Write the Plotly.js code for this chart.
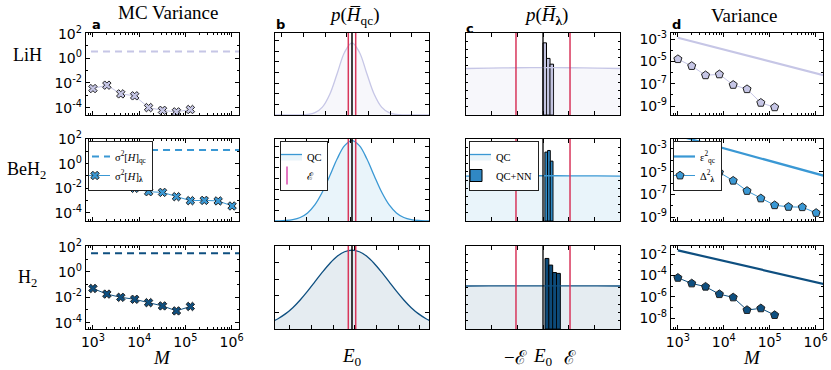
<!DOCTYPE html>
<html>
<head>
<meta charset="utf-8">
<script src="https://cdn.plot.ly/plotly-3.0.1.min.js"></script>
<style>body{margin:0;background:#fff}#plot{width:831px;height:370px}</style>
</head>
<body>
<div id="plot"></div>
<script>
////////// DATA ///////////////

const molecules = ['LiH', 'BeH<sub>2</sub>', 'H<sub>2</sub>'];

// sample sizes M
const M_lih  = [1e3, 2e3, 4e3, 8e3, 1.6e4, 3.2e4, 6.4e4, 1.28e5];
const M_beh2 = [8e3, 1.6e4, 3.2e4, 6.4e4, 1.28e5, 2.56e5, 5.12e5, 1.024e6];
const M_h2   = [1e3, 2e3, 4e3, 8e3, 1.6e4, 3.2e4, 6.4e4, 1.28e5];
const M_span = [5e2, 2e6];
const M_line = [1e3, 2e6];

// a: MC variance
const varQc = [3.6, 13, 30];
const varNN_lih  = [3.5e-3, 6.6e-3, 1.3e-3, 9e-4, 1e-4, 6e-5, 4.5e-5, 7e-5];
const varNN_beh2 = [1e-2, 5.3e-3, 4.7e-3, 2.1e-3, 1.0e-3, 1.05e-3, 9.5e-4, 3.7e-4];
const varNN_h2   = [5e-2, 1.8e-2, 1e-2, 7e-3, 3.8e-3, 2.1e-3, 8.5e-4, 1.9e-3];

// b: p(H_qc), energies in units of epsilon, E0 at 0
const E0 = 0;
const eps = 1;
const xPdfB = [-22,-20,-18,-16,-14,-12,-10,-8,-6,-4,-2,0,2,4,6,8,10,12,14,16,18,20,22];
const pdfB_lih  = [0,0,0,0,0.001,0.006,0.028,0.096,0.253,0.506,0.766,0.88,0.766,0.506,0.253,0.096,0.028,0.006,0.001,0,0,0,0];
const pdfB_beh2 = [0,0.002,0.006,0.017,0.043,0.099,0.199,0.353,0.552,0.759,0.919,0.98,0.919,0.759,0.552,0.353,0.199,0.099,0.043,0.017,0.006,0.002,0];
const pdfB_h2   = [0.08,0.124,0.182,0.257,0.35,0.456,0.57,0.685,0.79,0.876,0.931,0.95,0.931,0.876,0.79,0.685,0.57,0.456,0.35,0.257,0.182,0.124,0.08];

// c: p(H_lambda)
const xPdfC = [-3,-2,-1,0,1,2,3];
const pdfC_lih  = [0.566,0.572,0.576,0.578,0.576,0.572,0.566];
const pdfC_beh2 = [0.548,0.55,0.551,0.552,0.551,0.55,0.548];
const pdfC_h2   = [0.518,0.519,0.52,0.52,0.52,0.519,0.518];
const binsC_lih  = [0.065, 0.195, 0.325];
const histC_lih  = [0.88, 0.69, 0.62];
const binsC_beh2 = [0.12, 0.22, 0.32];
const histC_beh2 = [0.84, 0.86, 0.73];
const binsC_h2   = [0.145, 0.287, 0.429, 0.571];
const histC_h2   = [0.85, 0.77, 0.68, 0.67];
const binWidth = [0.13, 0.1, 0.142];

// d: variance
const errQc_lih  = [1.3e-3, 4.2e-7];
const errQc_beh2 = [1.5e-2, 3.2e-6];
const errQc_h2   = [2.2e-2, 1.2e-5];
const delta_lih  = [1.6e-5, 3.9e-6, 5.8e-7, 7e-7, 8e-8, 3.3e-8, 2e-9, 8e-10];
const delta_beh2 = [8.7e-6, 1.6e-6, 2e-7, 4.4e-8, 1.1e-8, 7.9e-9, 7.4e-9, 2.3e-9];
const delta_h2   = [6e-5, 1.8e-5, 8.9e-6, 1.8e-6, 8.9e-7, 5.9e-8, 8.5e-8, 2e-8];

// tick labels
const tickM_vals = [1e3, 1e4, 1e5, 1e6];
const tickM_text = ['10<sup>3</sup>', '10<sup>4</sup>', '10<sup>5</sup>', '10<sup>6</sup>'];
const tickA_vals = [1e-4, 1e-2, 1, 1e2];
const tickA_text = ['10<sup>-4</sup>', '10<sup>-2</sup>', '10<sup>0</sup>', '10<sup>2</sup>'];
const tickD_vals = [1e-9, 1e-7, 1e-5, 1e-3];
const tickD_text = ['10<sup>-9</sup>', '10<sup>-7</sup>', '10<sup>-5</sup>', '10<sup>-3</sup>'];
const tickD3_vals = [1e-8, 1e-6, 1e-4, 1e-2];
const tickD3_text = ['10<sup>-8</sup>', '10<sup>-6</sup>', '10<sup>-4</sup>', '10<sup>-2</sup>'];

////////// STYLE ///////////////

const lineCol = ['#c6c6e6', '#3a98d4', '#0e4f80'];
const fillCol = ['rgba(198,198,230,0.15)', 'rgba(58,152,212,0.11)', 'rgba(14,79,128,0.11)'];
const barCol  = ['#c2c3e0', '#3088c4', '#0d4a79'];
const red = '#d8365b';
const serif = 'Liberation Serif';

const colX = [[86,239],[275,429],[466,620],[671,823]];
const rowY = [[33,115],[139,221],[246,329]];
const W = 831, H = 370;

const M_all = [M_lih, M_beh2, M_h2];
const varNN_all = [varNN_lih, varNN_beh2, varNN_h2];
const pdfB_all = [pdfB_lih, pdfB_beh2, pdfB_h2];
const pdfC_all = [pdfC_lih, pdfC_beh2, pdfC_h2];
const binsC_all = [binsC_lih, binsC_beh2, binsC_h2];
const histC_all = [histC_lih, histC_beh2, histC_h2];
const errQc_all = [errQc_lih, errQc_beh2, errQc_h2];
const delta_all = [delta_lih, delta_beh2, delta_h2];

const yRangeA = [[-4.6, 2.05], [-4.65, 2.0], [-4.5, 2.05]];
const yRangeD = [[-9.79, -2.46], [-9.35, -2.12], [-9.0, -1.25]];
const xRangeM = [2.85, 6.16];
const bTick0 = [-1.4, -0.54, 0.8];

function nm(i){ return i === 1 ? '' : String(i); }

let data = [];
let layout = {
  width: W, height: H,
  margin: {l:0, r:0, t:0, b:0},
  paper_bgcolor: 'white', plot_bgcolor: 'white',
  font: {family: 'DejaVu Sans', size: 14, color: 'black'},
  hovermode: false,
  annotations: []
};

function baseAxis(extra){
  return Object.assign({
    showline: true, mirror: 'allticks', linecolor: 'black', linewidth: 1.2,
    ticks: 'inside', ticklen: 4, tickwidth: 1, tickcolor: 'black',
    showgrid: false, zeroline: false, fixedrange: true
  }, extra);
}

for (let r = 0; r < 3; r++) {
  for (let c = 0; c < 4; c++) {
    const i = r*4 + c + 1;
    const xd = [colX[c][0]/W, colX[c][1]/W];
    const yd = [1 - rowY[r][1]/H, 1 - rowY[r][0]/H];
    let xa, ya;
    if (c === 0 || c === 3) {
      xa = baseAxis({type: 'log', range: xRangeM, tickmode: 'array', tickvals: tickM_vals, ticktext: tickM_text,
        showticklabels: r === 2, minor: {ticks: 'inside', ticklen: 2, tickcolor: 'black', dtick: 'D1'}});
      const tv = c === 0 ? tickA_vals : (r === 2 ? tickD3_vals : tickD_vals);
      const tt = c === 0 ? tickA_text : (r === 2 ? tickD3_text : tickD_text);
      ya = baseAxis({type: 'log', range: c === 0 ? yRangeA[r] : yRangeD[r], tickmode: 'array', tickvals: tv, ticktext: tt,
        minor: {ticks: 'inside', ticklen: 2, tickcolor: 'black', dtick: 1}});
    } else if (c === 1) {
      xa = baseAxis({range: [-20.8, 20.8], tickmode: 'linear', tick0: bTick0[r], dtick: 5.85, showticklabels: false});
      ya = baseAxis({range: [0, 1], tickmode: 'linear', tick0: 0, dtick: r === 2 ? 0.2 : 0.13, showticklabels: false});
    } else {
      xa = baseAxis({range: [-2.85, 2.85], tickmode: 'linear', tick0: 0, dtick: 0.95, showticklabels: false});
      ya = baseAxis({range: [0, 1], tickmode: 'linear', tick0: 0, dtick: 0.1, ticklen: 2, showticklabels: false});
    }
    xa.domain = xd; xa.anchor = 'y' + nm(i);
    ya.domain = yd; ya.anchor = 'x' + nm(i);
    layout['xaxis' + nm(i)] = xa;
    layout['yaxis' + nm(i)] = ya;
  }

  const showLeg = r === 1;
  const ia = r*4 + 1, ib = r*4 + 2, ic = r*4 + 3, id = r*4 + 4;

  // a
  data.push({x: M_span, y: [varQc[r], varQc[r]], xaxis: 'x'+nm(ia), yaxis: 'y'+nm(ia), mode: 'lines',
    line: {color: lineCol[r], width: 2, dash: '7px,5px'}, name: 'σ<sup>2</sup>[<i>H</i>]<sub>qc</sub>',
    legend: 'legend', showlegend: showLeg});
  data.push({x: M_all[r], y: varNN_all[r], xaxis: 'x'+nm(ia), yaxis: 'y'+nm(ia), mode: 'lines+markers',
    line: {color: lineCol[r], width: 1},
    marker: {symbol: 'x', size: 7.5, color: lineCol[r], line: {color: '#222', width: 1}},
    name: 'σ<sup>2</sup>[<i>H</i>]<sub><b>λ</b></sub>', legend: 'legend', showlegend: showLeg});

  // b
  data.push({x: xPdfB, y: pdfB_all[r], xaxis: 'x'+nm(ib), yaxis: 'y'+nm(ib), mode: 'lines',
    line: {color: lineCol[r], width: 1.3, shape: 'spline'}, fill: 'tozeroy', fillcolor: fillCol[r],
    name: 'QC', legend: 'legend2', showlegend: showLeg});
  data.push({x: [-eps, -eps, null, eps, eps], y: [0, 1, null, 0, 1], xaxis: 'x'+nm(ib), yaxis: 'y'+nm(ib),
    mode: 'lines', line: {color: red, width: 1.5}, showlegend: false});
  data.push({x: [E0, E0], y: [0, 1], xaxis: 'x'+nm(ib), yaxis: 'y'+nm(ib),
    mode: 'lines', line: {color: 'black', width: 1.5}, showlegend: false});
  if (showLeg) {
    data.push({x: [null], y: [null], xaxis: 'x'+nm(ib), yaxis: 'y'+nm(ib), mode: 'markers',
      marker: {symbol: 'line-ns-open', size: 13, line: {color: red, width: 2}},
      name: 'ℰ', legend: 'legend2'});
  }

  // c
  data.push({x: xPdfC, y: pdfC_all[r], xaxis: 'x'+nm(ic), yaxis: 'y'+nm(ic), mode: 'lines',
    line: {color: lineCol[r], width: 1.3, shape: 'spline'}, fill: 'tozeroy', fillcolor: fillCol[r],
    name: 'QC', legend: 'legend3', showlegend: showLeg});
  data.push({x: [-eps, -eps, null, eps, eps], y: [0, 1, null, 0, 1], xaxis: 'x'+nm(ic), yaxis: 'y'+nm(ic),
    mode: 'lines', line: {color: red, width: 1.5}, showlegend: false});
  data.push({type: 'bar', x: binsC_all[r], y: histC_all[r], width: binWidth[r], xaxis: 'x'+nm(ic), yaxis: 'y'+nm(ic),
    marker: {color: barCol[r], line: {color: 'black', width: 1}}, name: 'QC+NN', legend: 'legend3', showlegend: showLeg});
  data.push({x: [E0, E0], y: [0, 1], xaxis: 'x'+nm(ic), yaxis: 'y'+nm(ic),
    mode: 'lines', line: {color: 'black', width: 1.3}, showlegend: false});

  // d
  data.push({x: M_line, y: errQc_all[r], xaxis: 'x'+nm(id), yaxis: 'y'+nm(id), mode: 'lines',
    line: {color: lineCol[r], width: 2.2}, name: 'ε<sup>2</sup><sub>qc</sub>', legend: 'legend4', showlegend: showLeg});
  data.push({x: M_all[r], y: delta_all[r], xaxis: 'x'+nm(id), yaxis: 'y'+nm(id), mode: 'lines+markers',
    line: {color: lineCol[r], width: 1},
    marker: {symbol: 'pentagon', size: 8.5, color: lineCol[r], line: {color: '#222', width: 1}},
    name: 'Δ<sup>2</sup><sub><b>λ</b></sub>', legend: 'legend4', showlegend: showLeg});
}

const legBase = {bgcolor: 'white', bordercolor: '#222', borderwidth: 1, xanchor: 'left', yanchor: 'top',
  font: {family: serif, size: 10.5, color: 'black'}, itemwidth: 30, tracegroupgap: 0, indentation: -14};
layout.legend  = Object.assign({}, legBase, {x: 88/W,  y: 1 - 141/H});
layout.legend2 = Object.assign({}, legBase, {x: 280/W, y: 1 - 141/H});
layout.legend3 = Object.assign({}, legBase, {x: 469/W, y: 1 - 141/H});
layout.legend4 = Object.assign({}, legBase, {x: 673/W, y: 1 - 141/H});

function ann(text, x, y, font, extra){
  layout.annotations.push(Object.assign({text: text, x: x, y: y, xref: 'paper', yref: 'paper',
    showarrow: false, font: font, xanchor: 'center', yanchor: 'middle'}, extra || {}));
}
const titleFont = {family: serif, size: 19, color: 'black'};
ann('MC Variance', 168/W, 1 - 13/H, titleFont);
ann('<i>p</i>(<i>H̅</i><sub>qc</sub>)', 354/W, 1 - 16/H, titleFont);
ann('<i>p</i>(<i>H̅</i><sub><b>λ</b></sub>)', 546/W, 1 - 16/H, titleFont);
ann('Variance', 744/W, 1 - 15/H, titleFont);

const letterFont = {family: 'DejaVu Sans', size: 13, color: 'black', weight: 'bold'};
ann('<b>a</b>', 96/W, 1 - 24/H, letterFont);
ann('<b>b</b>', 280/W, 1 - 24/H, letterFont);
ann('<b>c</b>', 470/W, 1 - 28/H, letterFont);
ann('<b>d</b>', 676/W, 1 - 24/H, letterFont);

const rowFont = {family: serif, size: 18, color: 'black'};
ann(molecules[0], 28/W, 1 - 55/H, rowFont);
ann(molecules[1], 26/W, 1 - 171/H, rowFont);
ann(molecules[2], 28/W, 1 - 278/H, rowFont);

const axFont = {family: serif, size: 19, color: 'black'};
ann('<i>M</i>', 162/W, 1 - 357/H, axFont);
ann('<i>M</i>', 752/W, 1 - 357/H, axFont);
ann('<i>E</i><sub>0</sub>', E0, 1 - 357/H, axFont, {xref: 'x10'});
ann('−ℰ', -eps, 1 - 357/H, axFont, {xref: 'x11'});
ann('<i>E</i><sub>0</sub>', E0, 1 - 357/H, axFont, {xref: 'x11'});
ann('ℰ', eps, 1 - 357/H, axFont, {xref: 'x11'});

Plotly.newPlot('plot', data, layout, {staticPlot: true, displayModeBar: false});
</script>
</body>
</html>
